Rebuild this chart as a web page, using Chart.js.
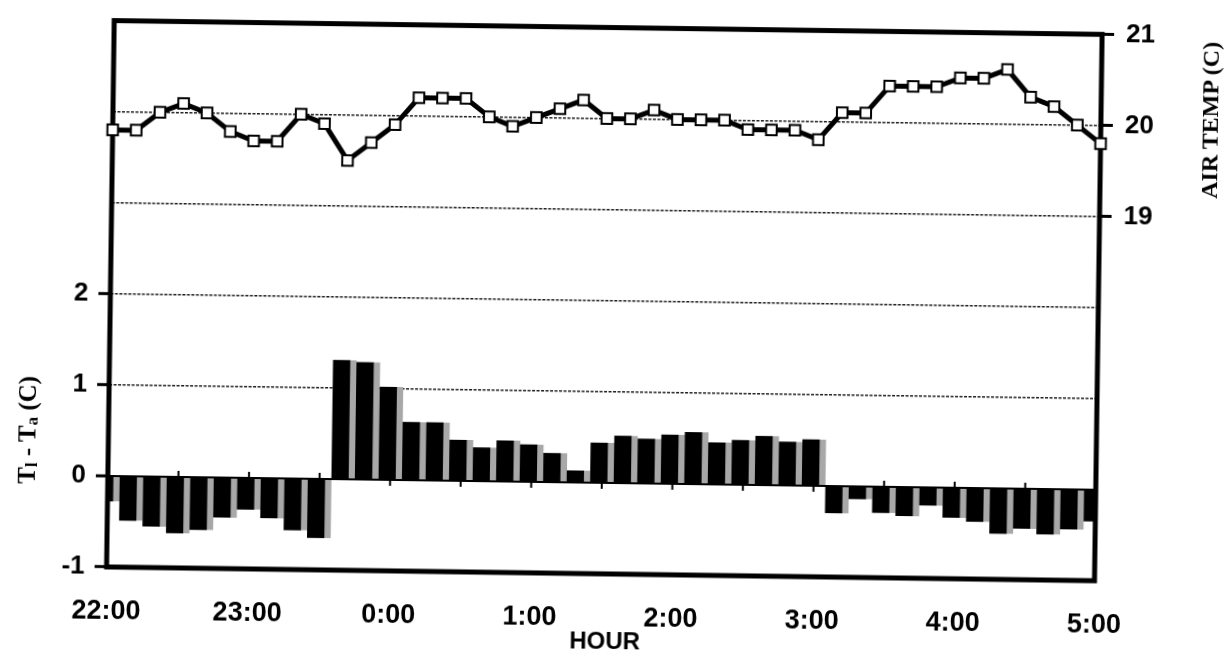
<!DOCTYPE html>
<html>
<head>
<meta charset="utf-8">
<script src="https://cdn.jsdelivr.net/npm/chart.js@4.4.1/dist/chart.umd.min.js"></script>
<style>
  html,body{margin:0;padding:0;background:#fff;overflow:hidden}
  /* the scanned figure sits slightly tilted */
  #wrap{position:relative;width:1227px;height:652px;transform:rotate(0.8deg);transform-origin:50% 50%}
  #chart{position:absolute;left:0;top:0}
  .ttl{position:absolute;color:#000;font-weight:bold;white-space:nowrap;line-height:1;transform:translate(-50%,-50%)}
  .rot{transform:translate(-50%,-50%) rotate(-90deg)}
  #ylab{left:29px;top:438px;font-family:"Liberation Serif","Times New Roman",serif;font-size:25px}
  #ylab sub{font-size:0.68em;vertical-align:-0.12em}
  #y2lab{left:1207px;top:112px;font-family:"Liberation Serif","Times New Roman",serif;font-size:24px}
  #xlab{left:609px;top:641px;font-family:"Liberation Sans",Arial,sans-serif;font-size:24px}
</style>
</head>
<body>
<div id="wrap">
  <canvas id="chart" width="1227" height="652"></canvas>
  <div id="ylab" class="ttl rot">T<sub>l</sub> - T<sub>a</sub> (C)</div>
  <div id="y2lab" class="ttl rot">AIR TEMP (C)</div>
  <div id="xlab" class="ttl">HOUR</div>
</div>
<script>
// hourly tick labels, readings every 10 minutes in between
const hourLabels = ['22:00','23:00','0:00','1:00','2:00','3:00','4:00','5:00'];
const minuteMarks = ['00','10','20','30','40','50'];
const times = [];
hourLabels.forEach((h, i) => {
  const hh = h.split(':')[0];
  if (i < hourLabels.length - 1) minuteMarks.forEach(m => times.push(hh + ':' + m));
  else times.push(h);
});

// leaf minus air temperature (C), bars, left axis
const leafMinusAir = [
  -0.28,-0.49,-0.55,-0.62,-0.58,-0.44,-0.35,-0.44,-0.57,-0.65,
  1.31,1.29,1.02,0.64,0.64,0.45,0.37,0.45,0.41,0.32,0.13,0.44,0.52,0.49,0.54,0.57,0.46,0.49,0.54,0.48,0.51,
  -0.30,-0.14,-0.29,-0.32,-0.20,-0.33,-0.37,-0.50,-0.44,-0.50,-0.44,-0.35
];

// air temperature (C), line, right axis
const airTemp = [
  19.8,19.8,20.0,20.1,20.0,19.8,19.7,19.7,20.0,19.9,19.5,19.7,19.9,
  20.2,20.2,20.2,20.0,19.9,20.0,20.1,20.2,20.0,20.0,20.1,20.0,20.0,20.0,19.9,19.9,19.9,19.8,
  20.1,20.1,20.4,20.4,20.4,20.5,20.5,20.6,20.3,20.2,20.0,19.8
];

const leftTicks = [-1, 0, 1, 2];
const rightTicks = [19, 20, 21];

const tickFont = {family:'"Liberation Sans", Arial, sans-serif', weight:'bold', size:26};

// plot frame + small half-hour ticks crossing the zero line
const framePlugin = {
  id: 'frame',
  beforeDatasetsDraw(chart){
    const {ctx, chartArea:a, scales} = chart;
    const y0 = scales.y.getPixelForValue(0);
    ctx.save();
    ctx.strokeStyle = '#000';
    ctx.lineWidth = 2;
    times.forEach((t, i) => {
      if (!/:(00|30)$/.test(t)) return;
      const x = scales.x.getPixelForValue(i);
      ctx.beginPath(); ctx.moveTo(x, y0 - 6); ctx.lineTo(x, y0 + 6); ctx.stroke();
    });
    ctx.lineWidth = 5;
    ctx.strokeRect(a.left, a.top, a.right - a.left, a.bottom - a.top);
    ctx.restore();
  }
};

new Chart(document.getElementById('chart').getContext('2d'), {
  type: 'bar',
  data: {
    labels: times,
    datasets: [
      {
        type: 'line', label: 'Air temp', data: airTemp, yAxisID: 'y2', order: 0,
        borderColor: '#000', borderWidth: 5, tension: 0, clip: false,
        pointStyle: 'rect', pointRadius: 7.5, pointBackgroundColor: '#fff',
        pointBorderColor: '#000', pointBorderWidth: 2
      },
      {
        type: 'bar', label: 'Tl - Ta', data: leafMinusAir, yAxisID: 'y', order: 1,
        backgroundColor: '#000', borderColor: '#a8a8a8',
        borderWidth: {top:0, right:6.5, bottom:0, left:0}, borderSkipped: false,
        barPercentage: 1, categoryPercentage: 1
      }
    ]
  },
  options: {
    responsive: false,
    animation: false,
    layout: {padding: {top: 22, left: 0, right: 0, bottom: 0}},
    plugins: {legend: {display: false}, tooltip: {enabled: false}},
    scales: {
      x: {
        type: 'category', offset: false,
        afterFit: s => { s.height = 78; },
        grid: {display: false},
        border: {display: false},
        ticks: {
          autoSkip: false, maxRotation: 0, minRotation: 0, padding: 20,
          color: '#000', font: {...tickFont, size: 27},
          callback: (v, i) => hourLabels.includes(times[i]) ? times[i] : ''
        }
      },
      y: {
        position: 'left', min: -1, max: 5,
        afterFit: s => { s.width = 110; },
        border: {display: false, dash: c => (c.tick && c.tick.value === 0) ? [] : [3, 1.5]},
        grid: {
          lineWidth: c => (c.tick && c.tick.value === 0) ? 2 : 1.4,
          color: c => {
            const v = c.tick ? c.tick.value : null;
            if (v === 0) return '#000';
            return (v >= 1 && v <= 4) ? '#1e1e1e' : 'rgba(0,0,0,0)';
          },
          tickLength: 12, tickWidth: 3,
          tickColor: c => (c.tick && leftTicks.includes(c.tick.value)) ? '#000' : 'rgba(0,0,0,0)'
        },
        ticks: {
          stepSize: 1, padding: 10, color: '#000', font: tickFont,
          callback: v => leftTicks.includes(v) ? v : ''
        }
      },
      y2: {
        position: 'right', min: 15, max: 21,
        afterFit: s => { s.width = 129; },
        border: {display: false},
        grid: {
          drawOnChartArea: false, tickLength: 12, tickWidth: 3,
          tickColor: c => (c.tick && rightTicks.includes(c.tick.value)) ? '#000' : 'rgba(0,0,0,0)'
        },
        ticks: {
          stepSize: 1, padding: 12, color: '#000', font: tickFont,
          callback: v => rightTicks.includes(v) ? v : ''
        }
      }
    }
  },
  plugins: [framePlugin]
});
</script>
</body>
</html>
